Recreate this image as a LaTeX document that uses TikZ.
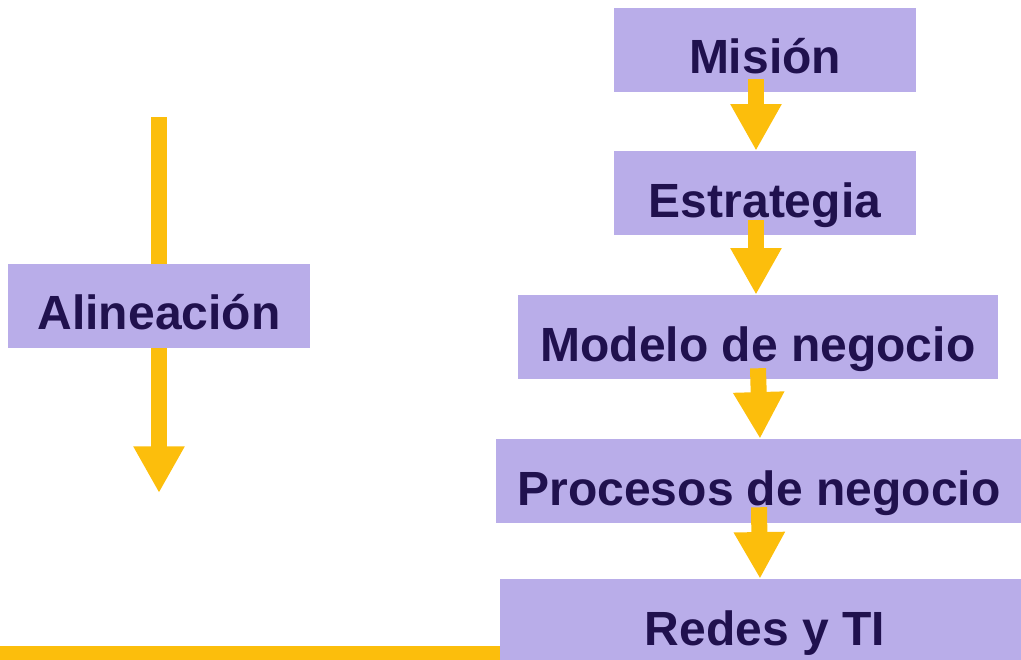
\documentclass[tikz,border=0pt]{standalone}
\usepackage{fontspec}
\setmainfont{Liberation Sans}
\usetikzlibrary{arrows.meta}

\definecolor{cajalila}{RGB}{185,173,233}
\definecolor{cajatinta}{RGB}{32,17,78}
\definecolor{flecha}{RGB}{252,190,12}

\begin{document}
\begin{tikzpicture}[x=0.75pt,y=-0.75pt,
		caja/.style={fill=cajalila,text=cajatinta,inner xsep=0pt,inner ysep=0pt,
			text height=49.5pt,text depth=13.5pt,
			font=\fontsize{36pt}{43pt}\selectfont\bfseries},
		flujo/.style={draw=flecha,line width=12pt,
			-{Triangle[width=36pt,length=35pt]}}
	]
	\useasboundingbox (0,0) rectangle (1021,660);

	% Barra inferior
	\coordinate (base) at (0,654);

	% Columna derecha
	\node[caja,minimum width=226.5pt] (mision) at (765,50) {Misión};
	\node[caja,minimum width=226.5pt] (estrategia) at (765,193) {Estrategia};
	\node[caja,minimum width=360pt] (modelo) at (758,337) {Modelo de negocio};
	\node[caja,minimum width=394.5pt] (procesos) at (759,481) {Procesos de negocio};
	\node[caja,minimum width=397.5pt] (redes) at (765,621) {Redes y TI};

	\draw[draw=flecha,line width=12pt] (base) -- (base -| redes.west);

	\draw[flujo] ([shift={(-9,-13)}]mision.south) -- ([shift={(-9,0)}]estrategia.north);
	\draw[flujo] ([shift={(-9,-15)}]estrategia.south) -- ([shift={(-2,0)}]modelo.north);
	\draw[flujo] ([shift={(0,-11)}]modelo.south) -- ([shift={(1,0)}]procesos.north);
	\draw[flujo] ([shift={(0,-16)}]procesos.south) -- ([shift={(-5,0)}]redes.north);

	% Alineacion
	\coordinate (alin arriba) at (159,117);
	\coordinate (alin abajo) at (159,493);
	\draw[flujo] (alin arriba) -- (alin abajo);
	\node[caja,minimum width=226.5pt] (alineacion) at (159,305.5) {Alineación};

\end{tikzpicture}
\end{document}
